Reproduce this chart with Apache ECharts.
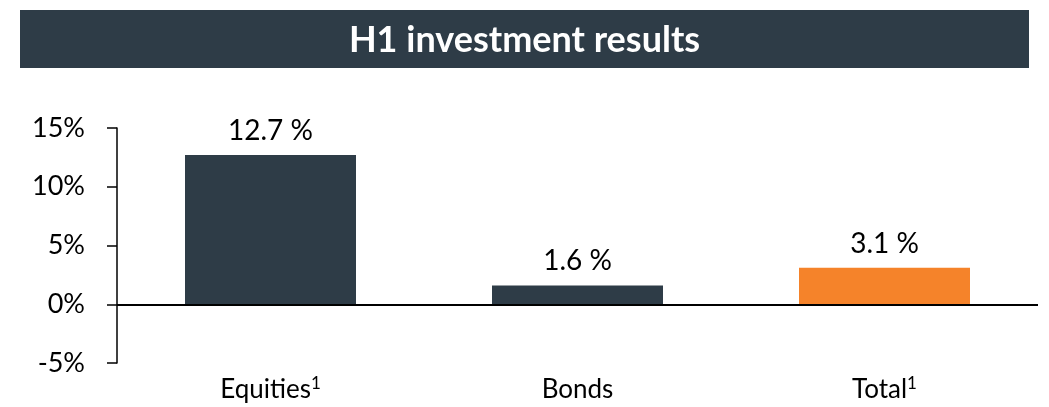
<!DOCTYPE html>
<html>
<head>
<meta charset="utf-8">
<script src="https://cdn.jsdelivr.net/npm/echarts@6/dist/echarts.min.js"></script>
<style>
  html, body { margin: 0; padding: 0; background: #fff; }
  #chart { width: 1049px; height: 407px; }
</style>
</head>
<body>
<div id="chart"></div>
<script>
const categories = ['Equities', 'Bonds', 'Total']
const footnotes = ['1', '', '1']
const returns = [12.7, 1.6, 3.1]
const yTicks = [-5, 0, 5, 10, 15]

const DARK = '#2e3c47'
const ORANGE = '#f5832a'
const FONT = 'Lato, "Liberation Sans", sans-serif'

const chart = echarts.init(document.getElementById('chart'))

chart.setOption({
  animation: false,
  textStyle: { fontFamily: FONT },
  title: {
    text: 'H1 investment results',
    left: 'center',
    top: 17,
    textStyle: { color: '#fff', fontSize: 36, fontWeight: 'bold', fontFamily: FONT }
  },
  graphic: [{
    type: 'rect',
    z: 0,
    shape: { x: 20, y: 10, width: 1009, height: 58 },
    style: { fill: DARK }
  }],
  grid: { left: 117, right: 11, top: 128, bottom: 44 },
  xAxis: {
    type: 'category',
    data: categories,
    axisLine: { show: false },
    axisTick: { show: false },
    axisLabel: {
      margin: 12,
      formatter: (v) => {
        const i = categories.indexOf(v)
        return footnotes[i] ? `{m|${v}}{s|${footnotes[i]}}` : `{m|${v}}`
      },
      rich: {
        m: { fontSize: 26, color: '#000', lineHeight: 30, fontFamily: FONT },
        s: { fontSize: 17, color: '#000', lineHeight: 17, verticalAlign: 'top', fontFamily: FONT }
      }
    }
  },
  yAxis: {
    type: 'value',
    min: yTicks[0],
    max: yTicks[yTicks.length - 1],
    interval: 5,
    splitLine: { show: false },
    axisLine: { show: true, lineStyle: { color: '#000', width: 1.5 } },
    axisTick: { show: true, length: 10, lineStyle: { color: '#000', width: 1.5 } },
    axisLabel: {
      margin: 32,
      fontSize: 27,
      color: '#000',
      formatter: '{value}%'
    }
  },
  series: [{
    type: 'bar',
    data: returns,
    barWidth: 171,
    itemStyle: {
      color: (p) => (p.name === 'Total' ? ORANGE : DARK)
    },
    label: {
      show: true,
      position: 'top',
      distance: 10,
      fontSize: 28,
      color: '#000',
      formatter: (p) => `${p.value} %`
    },
    markLine: {
      silent: true,
      symbol: 'none',
      label: { show: false },
      lineStyle: { color: '#000', width: 2, type: 'solid' },
      data: [{ yAxis: 0 }]
    }
  }]
})
</script>
</body>
</html>
